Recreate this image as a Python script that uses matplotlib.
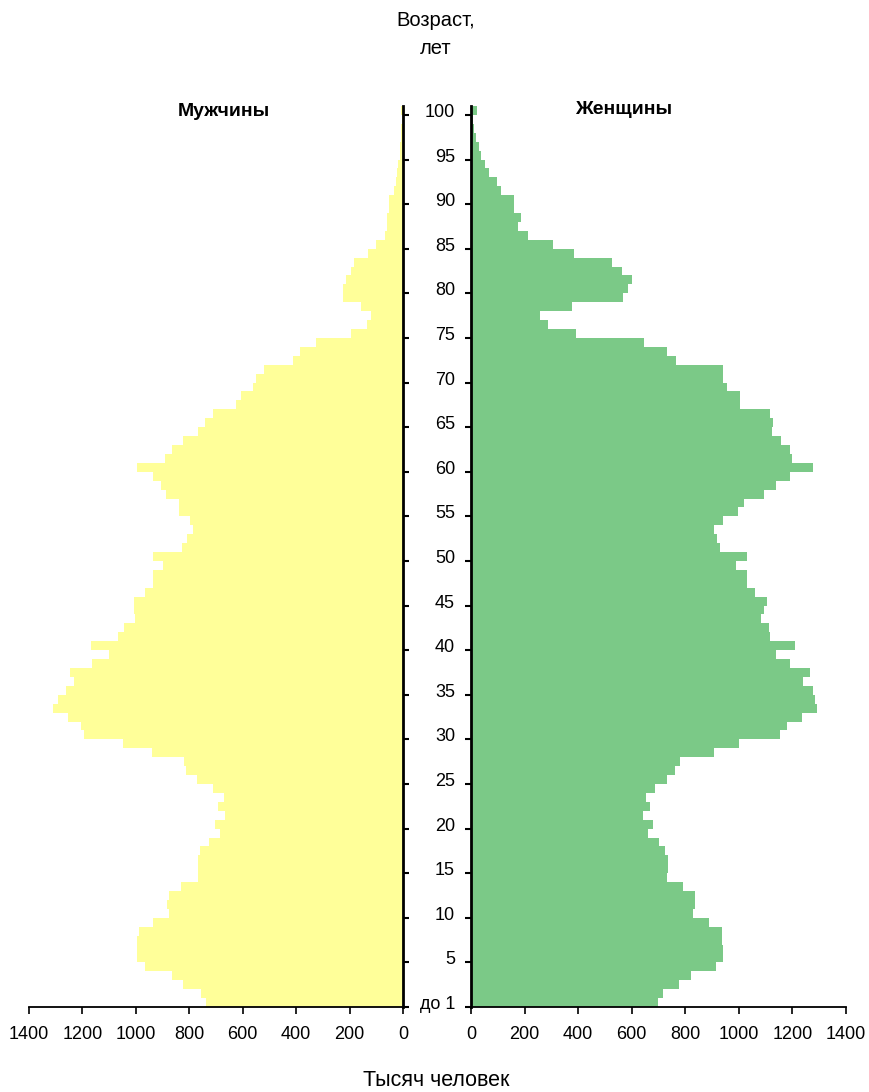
import matplotlib
matplotlib.use("Agg")
import matplotlib.pyplot as plt
import numpy as np

plt.rcParams['font.family'] = ['Liberation Sans', 'DejaVu Sans']

# age 0 ("до 1") .. 100, thousand people
ages = np.arange(0, 101)
men = [737, 757, 823, 864, 966, 994, 994, 994, 989, 935,
       875, 882, 875, 831, 768, 768, 768, 761, 726, 686,
       705, 666, 692, 670, 711, 772, 812, 819, 940, 1050,
       1194, 1206, 1254, 1310, 1293, 1262, 1231, 1247, 1163, 1102,
       1168, 1065, 1044, 1004, 1006, 1006, 966, 935, 935, 899,
       935, 827, 809, 786, 799, 840, 840, 889, 907, 935,
       996, 892, 865, 822, 766, 742, 712, 625, 606, 563,
       550, 520, 413, 386, 326, 196, 134, 121, 156, 226,
       226, 215, 193, 184, 131, 102, 68, 59, 59, 53,
       53, 35, 28, 22, 17, 13, 10, 8, 6, 5,
       9]
women = [697, 715, 775, 820, 914, 939, 940, 937, 937, 887,
         827, 838, 835, 790, 730, 734, 734, 726, 703, 662,
         678, 643, 670, 653, 687, 730, 762, 780, 907, 1001,
         1153, 1180, 1236, 1290, 1286, 1277, 1240, 1265, 1190, 1137,
         1209, 1116, 1113, 1083, 1093, 1106, 1061, 1032, 1032, 991,
         1029, 929, 919, 907, 942, 995, 1020, 1093, 1138, 1190,
         1277, 1197, 1190, 1156, 1122, 1126, 1116, 1004, 1004, 956,
         939, 939, 765, 730, 647, 391, 286, 257, 376, 566,
         585, 602, 565, 525, 384, 305, 211, 177, 187, 159,
         159, 111, 96, 68, 51, 37, 29, 19, 11, 6,
         21]

age_ticks = [0] + list(range(5, 101, 5))
age_labels = ['до 1'] + [str(a) for a in range(5, 101, 5)]
x_ticks = list(range(0, 1401, 200))

W, H = 869, 1092
fig = plt.figure(figsize=(W / 100, H / 100), dpi=100)

def px_axes(x0, x1, y0, y1):
    return fig.add_axes([x0 / W, 1 - y1 / H, (x1 - x0) / W, (y1 - y0) / H])

ax_m = px_axes(29, 403, 106, 1007)
ax_f = px_axes(471, 846, 106, 1007)

ax_m.barh(ages, men, height=1.0, color='#FFFF99', linewidth=0)
ax_f.barh(ages, women, height=1.0, color='#7BC987', linewidth=0)

ax_m.set_xlim(1400, 0)
ax_f.set_xlim(0, 1400)
for ax in (ax_m, ax_f):
    ax.set_ylim(-0.5, 100.5)
    ax.set_xticks(x_ticks)
    ax.set_xticklabels([str(v) for v in x_ticks])
    ax.tick_params(axis='x', direction='out', length=5, width=1.2, pad=9,
                   labelsize=13)
    ax.spines['top'].set_visible(False)
    ax.spines['bottom'].set_linewidth(1.3)

ax_m.spines['left'].set_visible(False)
ax_m.spines['right'].set_linewidth(2)
ax_m.yaxis.tick_right()
ax_m.set_yticks([a - 0.5 for a in age_ticks])
ax_m.set_yticklabels([])
ax_m.tick_params(axis='y', direction='out', length=4.5, width=1.5)

ax_f.spines['right'].set_visible(False)
ax_f.spines['left'].set_linewidth(2)
ax_f.set_yticks(age_ticks)
ax_f.set_yticklabels(age_labels)
ax_f.set_yticks([a - 0.5 for a in age_ticks], minor=True)
ax_f.tick_params(axis='y', which='major', length=0, pad=11.5, labelsize=13)
ax_f.tick_params(axis='y', which='minor', direction='out', length=4.5, width=1.5)

fig.text(224 / W, 1 - 111 / H, 'Мужчины', ha='center', va='center',
         fontsize=14, fontweight='bold')
fig.text(624 / W, 1 - 110 / H, 'Женщины', ha='center', va='center',
         fontsize=14, fontweight='bold')
fig.text(436 / W, 1 - 21 / H, 'Возраст,', ha='center', va='center', fontsize=14.5)
fig.text(436 / W, 1 - 48 / H, 'лет', ha='center', va='center', fontsize=14.5)
fig.text(436 / W, 1 - 1080 / H, 'Тысяч человек', ha='center', va='center',
         fontsize=15.5)

fig.savefig('out.png', dpi=100)
